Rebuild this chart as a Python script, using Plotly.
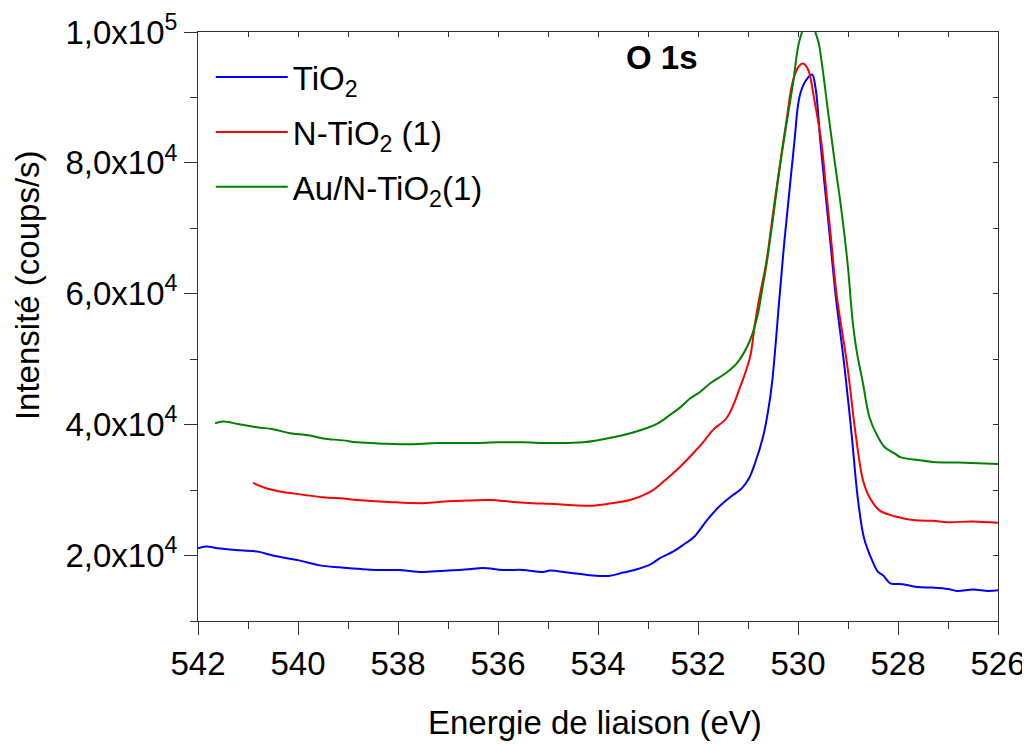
import plotly.graph_objects as go

# ---- data (binding energy eV, intensity counts/s) ----
tio2_x = [542.0, 541.84, 541.6, 541.16, 540.8, 540.5, 540.0, 539.56, 539.16, 538.42, 538.0, 537.5,
          537.0, 536.6, 536.3, 535.9, 535.5, 535.1, 534.96, 534.6, 534.16, 533.76, 533.5, 533.22, 532.96,
          532.76, 532.5, 532.3, 532.06, 531.82, 531.6, 531.36, 531.12, 530.98, 530.86, 530.7, 530.6,
          530.52, 530.37, 530.27, 530.17, 530.07, 529.97, 529.85, 529.72, 529.65, 529.55, 529.45,
          529.35, 529.25, 529.07, 528.93, 528.8, 528.68, 528.52, 528.4, 528.3, 528.16, 527.9, 527.62,
          527.3, 527.0, 526.82, 526.5, 526.2, 526.0]
tio2_y = [21100, 21400, 21100, 20800, 20600, 20000, 19300, 18500, 18200, 17800, 17800, 17500,
          17700, 17900, 18100, 17800, 17800, 17500, 17700, 17400, 17000, 16900, 17400, 17900, 18600,
          19600, 20600, 21600, 23000, 25400, 27300, 28900, 30300, 31800, 34100, 38100, 42000,
          46300, 59500, 68200, 75800, 83400, 90100, 92500, 93500, 91500, 83000, 75300,
          67700, 60000, 48800, 38700, 28500, 22700, 19300, 17500, 17000, 15800, 15600, 15200,
          15100, 14900, 14600, 14800, 14600, 14700]

ntio2_x = [540.9, 540.6, 540.3, 539.9, 539.5, 539.1, 538.82, 538.2, 537.5, 537.0, 536.6, 536.16, 535.7,
           535.3, 534.96, 534.5, 534.16, 533.8, 533.36, 533.1, 532.9, 532.66, 532.42, 532.1, 531.9,
           531.7, 531.42, 531.16, 530.96, 530.86, 530.77, 530.63, 530.5, 530.37, 530.23, 530.1, 529.98,
           529.9, 529.8, 529.67, 529.53, 529.43, 529.33, 529.23, 529.01, 528.85, 528.7, 528.57, 528.37,
           528.07, 527.66, 527.3, 527.0, 526.5, 526.0]
ntio2_y = [31100, 30200, 29700, 29300, 28900, 28700, 28500, 28200, 28000, 28300, 28400, 28500, 28200,
           28000, 27900, 27700, 27600, 27900, 28500, 29200, 30000, 31500, 33100, 35600, 37300,
           39200, 41100, 45700, 50300, 55500, 59500, 65000, 72300, 79300, 86500, 92600, 94800,
           95200, 94300, 89500, 83000, 75300, 67700, 60000, 48800, 38700, 31500, 28900, 26900,
           26000, 25400, 25300, 25100, 25200, 25000]

au_x = [541.66, 541.5, 541.2, 540.82, 540.5, 540.16, 539.8, 539.5, 539.1, 538.82, 538.3, 537.82, 537.2,
        536.5, 536.0, 535.5, 534.96, 534.3, 533.62, 533.3, 533.02, 532.8, 532.56, 532.36, 532.16,
        531.96, 531.76, 531.42, 531.2, 530.96, 530.8, 530.72, 530.63, 530.5, 530.37, 530.23, 530.1,
        529.97, 529.79, 529.6, 529.53, 529.41, 529.27, 529.13, 529.0, 528.91, 528.83, 528.7, 528.57,
        528.4, 528.27, 528.07, 527.94, 527.6, 527.3, 526.8, 526.4, 526.0]
au_y = [40200, 40500, 40100, 39600, 39300, 38700, 38400, 37900, 37600, 37300, 37100, 37000, 37200,
        37200, 37300, 37300, 37200, 37300, 38200, 38800, 39500, 40200, 41500, 42600, 44000,
        45000, 46300, 48000, 49600, 52900, 57000, 60500, 64500, 71500, 79000, 86000, 92100,
        98700, 102000, 98700, 95600, 88500, 80400, 72700, 64000, 56000, 51400, 46300, 41100,
        38100, 36600, 35600, 35000, 34600, 34300, 34200, 34100, 34000]

x_ticks = [542, 540, 538, 536, 534, 532, 530, 528, 526]
y_tickvals = [20000, 40000, 60000, 80000, 100000]
y_ticktext = ["2,0x10<sup>4</sup>", "4,0x10<sup>4</sup>", "6,0x10<sup>4</sup>",
              "8,0x10<sup>4</sup>", "1,0x10<sup>5</sup>"]

FONT = "Liberation Sans, Arial, sans-serif"
FS = 33
AX = "#333333"

fig = go.Figure()
series = [
    ("TiO<sub>2</sub>", tio2_x, tio2_y, "#0000ff"),
    ("N-TiO<sub>2</sub> (1)", ntio2_x, ntio2_y, "#ff0000"),
    ("Au/N-TiO<sub>2</sub>(1)", au_x, au_y, "#008000"),
]
for i, (name, xs, ys, col) in enumerate(series):
    fig.add_trace(go.Scatter(x=xs, y=ys, mode="lines", name=name, legendgroup=f"g{i}",
                             line=dict(color=col, width=2), line_shape="spline"))

# helper invisible trace to create the mirrored axes (inside ticks on top/right)
fig.add_trace(go.Scatter(x=[], y=[], xaxis="x2", yaxis="y2", showlegend=False, hoverinfo="skip"))

fig.update_layout(
    width=1022, height=736,
    margin=dict(l=190, r=32, t=24, b=123),
    paper_bgcolor="white", plot_bgcolor="white",
    font=dict(family=FONT, size=FS, color="black"),
    showlegend=True,
    legend=dict(x=0.016, y=0.971, xanchor="left", yanchor="top", bgcolor="rgba(0,0,0,0)",
                font=dict(size=FS, family=FONT), itemwidth=72, tracegroupgap=9),
    xaxis=dict(range=[542, 526], tickvals=x_ticks, ticks="outside", ticklen=13, tickwidth=1,
               tickcolor=AX, showline=True, linecolor=AX, linewidth=1, showgrid=False,
               zeroline=False, tickfont=dict(size=FS, family=FONT), automargin=False,
               minor=dict(dtick=1, tick0=542, ticks="outside", ticklen=7, tickcolor=AX, showgrid=False)),
    yaxis=dict(range=[10000, 100000], tickvals=y_tickvals, ticktext=y_ticktext, ticks="outside",
               ticklen=13, tickwidth=1, tickcolor=AX, showline=True, linecolor=AX, linewidth=1,
               showgrid=False, zeroline=False, tickfont=dict(size=FS, family=FONT), automargin=False,
               minor=dict(tickvals=[10000, 30000, 50000, 70000, 90000], ticks="outside", ticklen=7,
                          tickcolor=AX, showgrid=False)),
    xaxis2=dict(overlaying="x", side="top", anchor="y2", range=[542, 526], dtick=1, tick0=542,
                ticks="inside", ticklen=5, tickcolor=AX, showticklabels=False, showline=True,
                linecolor=AX, linewidth=1, showgrid=False, zeroline=False, automargin=False),
    yaxis2=dict(overlaying="y", side="right", anchor="x2", range=[10000, 100000], dtick=10000,
                ticks="inside", ticklen=5, tickcolor=AX, showticklabels=False, showline=True,
                linecolor=AX, linewidth=1, showgrid=False, zeroline=False, automargin=False),
    annotations=[
        dict(text="<b>O 1s</b>", x=0.58, y=0.957, xref="paper", yref="paper",
             xanchor="center", yanchor="middle", showarrow=False,
             font=dict(size=FS, family=FONT, color="black")),
        dict(text="Energie de liaison (eV)", x=0.4965, y=-0.1715, xref="paper", yref="paper",
             xanchor="center", yanchor="middle", showarrow=False,
             font=dict(size=FS, family=FONT, color="black")),
        dict(text="Intensité (coups/s)", x=-0.214, y=0.57, xref="paper", yref="paper",
             xanchor="center", yanchor="middle", showarrow=False, textangle=-90,
             font=dict(size=FS, family=FONT, color="black")),
    ],
)

fig.write_html("out.html")
